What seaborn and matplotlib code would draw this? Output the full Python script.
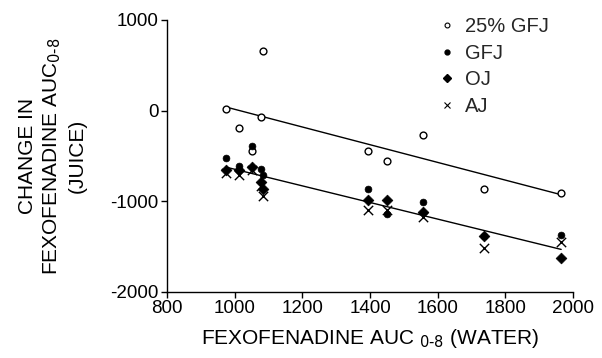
import matplotlib
matplotlib.use("Agg")
import matplotlib.pyplot as plt
import seaborn as sns
import pandas as pd
from matplotlib.lines import Line2D

# Data
water_auc = [974, 1012, 1050, 1078, 1085, 1393, 1451, 1556, 1738, 1965]
gfj25 = [15, -190, -447, -73, 660, -450, -557, -264, -861, -905]
gfj = [-520, -612, -392, -640, -714, -860, -1140, -1007, -1385, -1370]
oj = [-659, -650, -620, -790, -860, -989, -989, -1117, -1380, -1626]
aj = [-689, -710, -650, -830, -940, -1095, -1095, -1168, -1516, -1447]

series_names = ["25% GFJ", "GFJ", "OJ", "AJ"]
x_ticks = [800, 1000, 1200, 1400, 1600, 1800, 2000]
y_ticks = [-2000, -1000, 0, 1000]

rows = []
for name, vals in zip(series_names, [gfj25, gfj, oj, aj]):
    for xv, yv in zip(water_auc, vals):
        rows.append({"water": xv, "change": yv, "juice": name})
df = pd.DataFrame(rows)

sns.set_theme(style="ticks")
plt.rcParams['font.family'] = ['Liberation Sans', 'DejaVu Sans']
plt.rcParams['axes.unicode_minus'] = False

fig = plt.figure(figsize=(6.02, 3.58), dpi=100)
ax = fig.add_axes([167/602, 1 - 292/358, (573-167)/602, (292-20)/358])

styles = {
    "25% GFJ": dict(marker="o", s=24, facecolor="white", edgecolor="black", linewidth=1.0),
    "GFJ": dict(marker="o", s=24, facecolor="black", edgecolor="black", linewidth=0.5),
    "OJ": dict(marker="D", s=30, facecolor="black", edgecolor="black", linewidth=0.5),
    "AJ": dict(marker="x", s=45, color="black", linewidth=1.0),
}
for name in series_names:
    sub = df[df["juice"] == name]
    st = styles[name]
    if name == "AJ":
        sns.scatterplot(data=sub, x="water", y="change", marker="x", s=st["s"],
                        color="black", linewidth=st["linewidth"], ax=ax, legend=False, zorder=3)
    else:
        sns.scatterplot(data=sub, x="water", y="change", marker=st["marker"], s=st["s"],
                        facecolor=st["facecolor"], edgecolor=st["edgecolor"],
                        linewidth=st["linewidth"], ax=ax, legend=False, zorder=3)

# Regression lines
sns.regplot(data=df[df["juice"] == "25% GFJ"], x="water", y="change", scatter=False,
            ci=None, color="black", line_kws=dict(lw=1.0), ax=ax)
sns.regplot(data=df[df["juice"] != "25% GFJ"], x="water", y="change", scatter=False,
            ci=None, color="black", line_kws=dict(lw=1.0), ax=ax)

ax.set_xlim(800, 2000)
ax.set_ylim(-2000, 1000)
ax.set_xticks(x_ticks)
ax.set_yticks(y_ticks)
ax.tick_params(axis="both", labelsize=13.5, length=4, width=1, color="black",
               labelcolor="black", pad=2)
for sp in ["left", "bottom"]:
    ax.spines[sp].set_linewidth(1.0)
    ax.spines[sp].set_color("black")
sns.despine(ax=ax)

ax.set_xlabel("FEXOFENADINE AUC $_{0\u20108}$ (WATER)", fontsize=15, color="black", labelpad=7)
ax.set_ylabel("CHANGE IN\nFEXOFENADINE AUC$_{0\u20108}$\n(JUICE)", fontsize=15,
              color="black", labelpad=17, linespacing=1.3)

handles = [
    Line2D([], [], marker="o", ls="", markersize=3.5, markerfacecolor="white", markeredgecolor="black", markeredgewidth=0.8),
    Line2D([], [], marker="o", ls="", markersize=3.5, markerfacecolor="black", markeredgecolor="black"),
    Line2D([], [], marker="D", ls="", markersize=3.8, markerfacecolor="black", markeredgecolor="black"),
    Line2D([], [], marker="x", ls="", markersize=4.0, color="black", markeredgewidth=0.8),
]
ax.legend(handles, series_names, loc="upper left", bbox_to_anchor=(0.645, 1.04), frameon=False,
          fontsize=14.5, handletextpad=0.4, labelspacing=0.38, handlelength=1.0, borderaxespad=0)

fig.savefig("out.png", dpi=100)
